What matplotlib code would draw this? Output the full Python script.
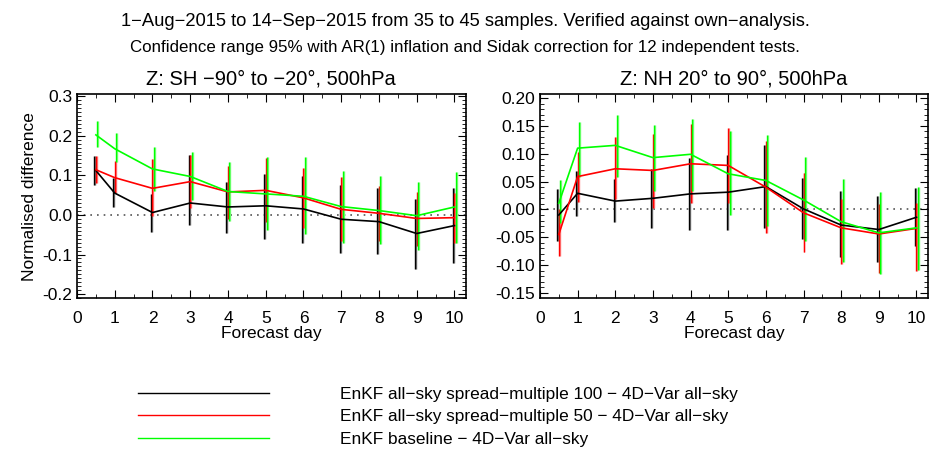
import matplotlib
matplotlib.use('Agg')
import matplotlib.pyplot as plt
from matplotlib.ticker import MultipleLocator, FormatStrFormatter
import numpy as np

plt.rcParams['font.family'] = ['Liberation Sans', 'DejaVu Sans']

days = [0.5, 1, 2, 3, 4, 5, 6, 7, 8, 9, 10]

labels = ['EnKF all\u2212sky spread\u2212multiple 100 \u2212 4D\u2212Var all\u2212sky',
          'EnKF all\u2212sky spread\u2212multiple 50 \u2212 4D\u2212Var all\u2212sky',
          'EnKF baseline \u2212 4D\u2212Var all\u2212sky']

# SH panel
sh_black = [0.112, 0.055, 0.006, 0.030, 0.020, 0.023, 0.015, -0.011, -0.017, -0.047, -0.027]
sh_black_hi = [0.148, 0.092, 0.053, 0.150, 0.084, 0.104, 0.098, 0.076, 0.067, 0.039, 0.067]
sh_black_lo = [0.075, 0.020, -0.042, -0.026, -0.046, -0.060, -0.071, -0.096, -0.099, -0.136, -0.122]

sh_red = [0.114, 0.094, 0.067, 0.084, 0.058, 0.062, 0.043, 0.014, 0.004, -0.009, -0.007]
sh_red_hi = [0.148, 0.136, 0.140, 0.150, 0.124, 0.143, 0.118, 0.096, 0.072, 0.059, 0.055]
sh_red_lo = [0.080, 0.055, -0.004, 0.018, -0.010, -0.018, -0.033, -0.067, -0.065, -0.079, -0.070]

sh_green = [0.202, 0.167, 0.116, 0.097, 0.059, 0.053, 0.047, 0.021, 0.011, -0.002, 0.020]
sh_green_hi = [0.236, 0.207, 0.172, 0.159, 0.134, 0.145, 0.145, 0.111, 0.098, 0.083, 0.109]
sh_green_lo = [0.172, 0.134, 0.061, 0.037, -0.015, -0.037, -0.049, -0.071, -0.073, -0.089, -0.071]

# NH panel
nh_black = [-0.010, 0.029, 0.015, 0.020, 0.028, 0.031, 0.041, 0.001, -0.028, -0.036, -0.014]
nh_black_hi = [0.036, 0.069, 0.054, 0.073, 0.092, 0.097, 0.115, 0.057, 0.033, 0.024, 0.039]
nh_black_lo = [-0.056, -0.011, -0.023, -0.033, -0.037, -0.036, -0.033, -0.053, -0.086, -0.095, -0.066]

nh_red = [-0.045, 0.059, 0.073, 0.070, 0.082, 0.079, 0.040, -0.006, -0.033, -0.044, -0.034]
nh_red_hi = [0.001, 0.103, 0.130, 0.136, 0.153, 0.146, 0.123, 0.066, 0.018, 0.010, 0.011]
nh_red_lo = [-0.083, 0.014, 0.018, 0.002, 0.011, 0.011, -0.042, -0.076, -0.098, -0.114, -0.111]

nh_green = [0.011, 0.110, 0.115, 0.093, 0.099, 0.064, 0.052, 0.017, -0.022, -0.042, -0.033]
nh_green_hi = [0.053, 0.157, 0.170, 0.152, 0.163, 0.140, 0.133, 0.095, 0.055, 0.031, 0.041]
nh_green_lo = [-0.025, 0.059, 0.059, 0.034, 0.033, -0.010, -0.029, -0.057, -0.095, -0.116, -0.108]

colors = ['black', '#ff0000', '#00ff00']
bar_colors = ['#777777', '#ff8080', '#80ff80']
offsets = [-0.04, 0.0, 0.04]


def draw_panel(ax, series, title, ylim, major):
    x = np.array(days)
    handles = []
    for (mean, hi, lo), c, bc, off in zip(series, colors, bar_colors, offsets):
        ax.vlines(x + off + 0.025, lo, hi, color=bc, lw=1.0, zorder=2)
        ax.vlines(x + off, lo, hi, color=c, lw=1.0, zorder=3)
        h, = ax.plot(x, mean, color=c, lw=1.2, zorder=4)
        handles.append(h)
    ax.axhline(0, color='#555555', lw=1.2, ls=(0, (1, 3)), zorder=1)
    ax.set_xlim(0, 10.3)
    ax.set_ylim(*ylim)
    ax.xaxis.set_major_locator(MultipleLocator(1))
    ax.xaxis.set_minor_locator(MultipleLocator(0.5))
    ax.yaxis.set_major_locator(MultipleLocator(major))
    ax.yaxis.set_minor_locator(MultipleLocator(0.01))
    ax.tick_params(which='both', direction='in', top=True, right=True, labelsize=12.5)
    ax.tick_params(axis='x', pad=9)
    ax.tick_params(which='major', length=6)
    ax.tick_params(which='minor', length=3)
    for s in ax.spines.values():
        s.set_linewidth(1.2)
    ax.set_title(title, fontsize=14.5, pad=7)
    ax.set_xlabel('Forecast day', fontsize=12.5, labelpad=0)
    return handles


fig = plt.figure(figsize=(9.3, 4.53), dpi=100)
ax1 = fig.add_axes([0.0828, 0.342, 0.418, 0.4503])
ax2 = fig.add_axes([0.5806, 0.342, 0.417, 0.4503])

handles = draw_panel(ax1, [(sh_black, sh_black_hi, sh_black_lo),
                           (sh_red, sh_red_hi, sh_red_lo),
                           (sh_green, sh_green_hi, sh_green_lo)],
                     'Z: SH \u221290\u00b0 to \u221220\u00b0, 500hPa', (-0.21, 0.305), 0.1)
ax1.yaxis.set_major_formatter(FormatStrFormatter('%.1f'))
ax1.set_ylabel('Normalised difference', fontsize=12.5)

draw_panel(ax2, [(nh_black, nh_black_hi, nh_black_lo),
                 (nh_red, nh_red_hi, nh_red_lo),
                 (nh_green, nh_green_hi, nh_green_lo)],
           'Z: NH 20\u00b0 to 90\u00b0, 500hPa', (-0.159, 0.207), 0.05)
ax2.yaxis.set_major_formatter(FormatStrFormatter('%.2f'))

fig.text(0.5, 0.953, '1\u2212Aug\u22122015 to 14\u2212Sep\u22122015 from 35 to 45 samples. Verified against own\u2212analysis.',
         ha='center', va='center', fontsize=13.2)
fig.text(0.5, 0.895, 'Confidence range 95% with AR(1) inflation and Sidak correction for 12 independent tests.',
         ha='center', va='center', fontsize=12.2)

leg = fig.legend(handles, labels, loc='upper left', bbox_to_anchor=(0.132, 0.18),
                 frameon=False, fontsize=12.4, handlelength=7.6, handletextpad=4.1,
                 labelspacing=0.42)
for line in leg.get_lines():
    line.set_linewidth(1.0)

fig.savefig('out.png', dpi=100)
